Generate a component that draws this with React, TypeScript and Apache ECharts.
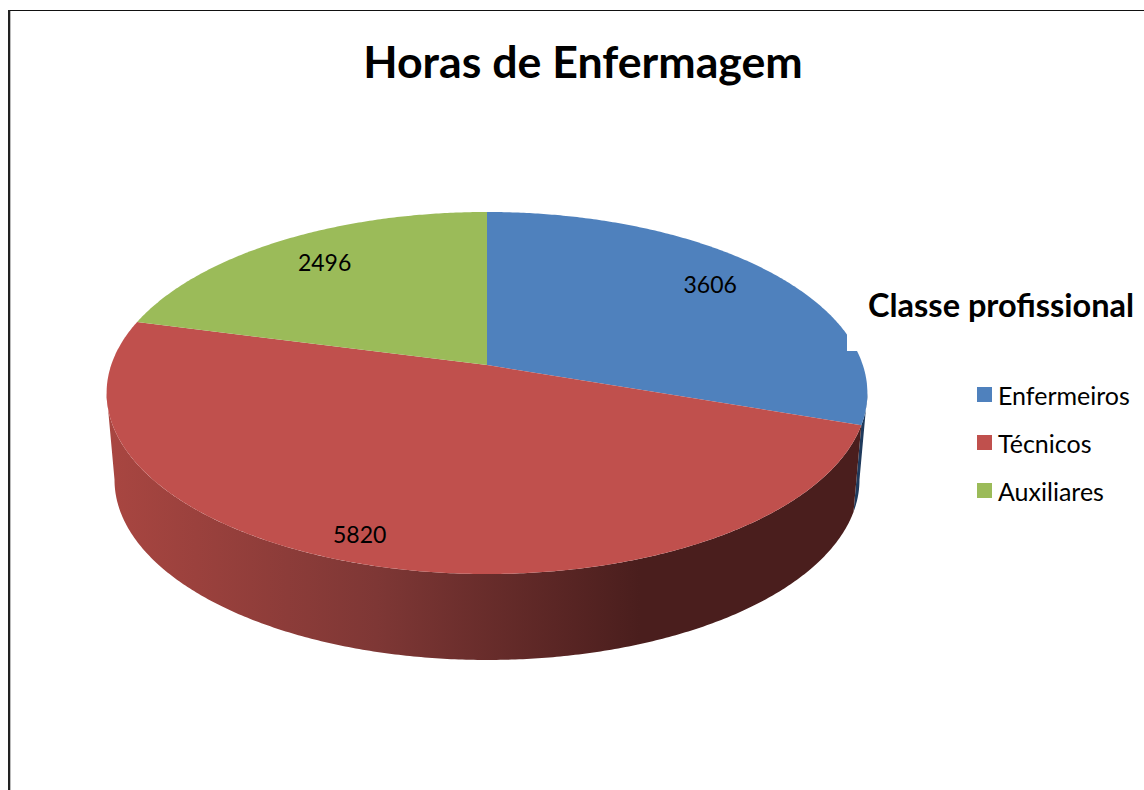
import React, { useEffect, useRef } from "react";
import * as echarts from "echarts";

const titleText = "Horas de Enfermagem";
const legendTitle = "Classe profissional";
const categories = ["Enfermeiros", "Técnicos", "Auxiliares"];
const values = [3606, 5820, 2496];
const topColors = ["#4f81bd", "#c0504d", "#9bbb59"];

const FONT = "Lato, 'Noto Sans', sans-serif";
const APEX_X = 487;
const K = 0.1547;
const TOP = { a: 375.8, b: 176.7, cy: 365 };
const BOTTOM = { a: 368, b: 175.8, cy: 452 };
const LABEL_RADIUS = 0.8;
const labelNudges = [[-5, -4], [-29, 15], [5, -1]];

const total = values.reduce((s, v) => s + v, 0);
const DEG = Math.PI / 180;
const sliceStart = (i: number) => (values.slice(0, i).reduce((s, v) => s + v, 0) / total) * 360;
const sliceEnd = (i: number) => sliceStart(i + 1);
const TANGENT_R = Math.acos(-K) / DEG;
const TANGENT_L = 360 - TANGENT_R;

function project(theta: number, plane: { a: number; b: number; cy: number }, r = 1): number[] {
  const u = r * Math.sin(theta * DEG);
  const v = -r * Math.cos(theta * DEG);
  const w = 1 - K * v;
  return [APEX_X + (plane.a * u) / w, plane.cy + (plane.b * v) / w];
}

function arc(from: number, to: number, plane: { a: number; b: number; cy: number }): number[][] {
  const steps = Math.max(2, Math.ceil((to - from) / 0.5));
  const pts: number[][] = [];
  for (let i = 0; i <= steps; i++) pts.push(project(from + ((to - from) * i) / steps, plane));
  return pts;
}

const redWall = new echarts.graphic.LinearGradient(
  106, 0, 860, 0,
  [
    { offset: 0, color: "#a94641" },
    { offset: 0.36, color: "#7e3735" },
    { offset: 0.708, color: "#4a1e1d" },
    { offset: 1, color: "#4a1e1d" },
  ],
  true
);
const wallFills: any[] = ["#1f3a5c", redWall, "#5d7035"];

function renderWall(params: any) {
  const i = params.dataIndex;
  const from = Math.max(sliceStart(i), TANGENT_R);
  const to = Math.min(sliceEnd(i), TANGENT_L);
  if (to <= from) return { type: "group", children: [] };
  const points = [...arc(from, to, TOP), ...arc(from, to, BOTTOM).reverse()];
  return { type: "polygon", shape: { points }, style: { fill: wallFills[i] } };
}

const renderSlice = (idx: number) => () => {
  const points = [[APEX_X, TOP.cy], ...arc(sliceStart(idx), sliceEnd(idx), TOP)];
  const mid = (sliceStart(idx) + sliceEnd(idx)) / 2;
  const [lx, ly] = project(mid, TOP, LABEL_RADIUS);
  return {
    type: "group",
    children: [
      { type: "polygon", shape: { points }, style: { fill: topColors[idx] } },
      {
        type: "text",
        z2: 10,
        style: {
          text: String(values[idx]),
          x: lx + labelNudges[idx][0],
          y: ly + labelNudges[idx][1],
          align: "center",
          verticalAlign: "middle",
          fontFamily: FONT,
          fontSize: 23,
          fill: "#000",
        },
      },
    ],
  };
};

export default function App() {
  const ref = useRef<HTMLDivElement>(null);
  useEffect(() => {
    document.body.style.margin = "0";
    const chart = echarts.init(ref.current!, undefined, { renderer: "svg" });
    chart.setOption({
      animation: false,
      backgroundColor: "#fff",
      title: {
        text: titleText,
        left: 578,
        top: 33,
        textAlign: "center",
        textStyle: { fontFamily: FONT, fontSize: 44.7, fontWeight: "bold", color: "#000" },
      },
      legend: {
        data: categories,
        orient: "vertical",
        left: 972,
        top: 377,
        itemWidth: 15,
        itemHeight: 15,
        itemGap: 23,
        selectedMode: false,
        icon: "rect",
        textStyle: { fontFamily: FONT, fontSize: 25, color: "#000", padding: [0, 0, 0, 1] },
      },
      tooltip: { show: false },
      series: [
        {
          type: "custom",
          name: "wall",
          coordinateSystem: "none",
          silent: true,
          data: values.map((v) => [v]),
          renderItem: renderWall,
        },
        ...categories.map((name, i) => ({
          type: "custom",
          name,
          coordinateSystem: "none",
          silent: true,
          itemStyle: { color: topColors[i] },
          data: [[values[i]]],
          renderItem: renderSlice(i),
        })),
      ],
      graphic: [
        { type: "rect", z: 100, shape: { x: 847, y: 320, width: 30, height: 31 }, style: { fill: "#fff" } },
        { type: "rect", z: 100, shape: { x: 8, y: 10, width: 1136, height: 1 }, style: { fill: "#111" } },
        { type: "rect", z: 100, shape: { x: 8, y: 10, width: 2, height: 780 }, style: { fill: "#222" } },
        { type: "rect", z: 100, shape: { x: 10, y: 11, width: 1, height: 779 }, style: { fill: "#bbb" } },
        {
          type: "text",
          z: 101,
          x: 868,
          y: 304,
          style: {
            text: legendTitle,
            align: "left",
            verticalAlign: "middle",
            fontFamily: FONT,
            fontWeight: "bold",
            fontSize: 32.5,
            fill: "#000",
            shadowColor: "rgba(0,0,0,0.6)",
            shadowBlur: 2,
          },
        },
      ],
    });
    return () => chart.dispose();
  }, []);
  return <div ref={ref} style={{ position: "absolute", left: 0, top: 0, width: 1144, height: 790 }} />;
}
